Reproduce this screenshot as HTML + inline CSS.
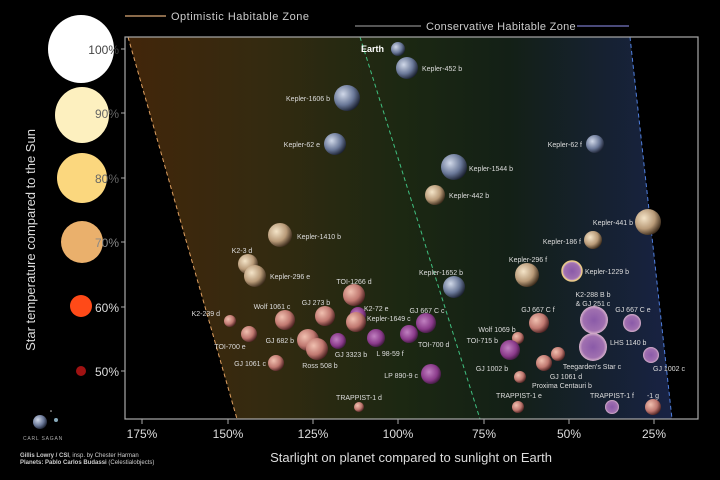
<!DOCTYPE html>
<html><head><meta charset="utf-8"><style>
html,body{margin:0;padding:0;background:#000;width:720px;height:480px;overflow:hidden}
svg{display:block;font-family:"Liberation Sans","DejaVu Sans",sans-serif}
.pl{font-size:7px;fill:#ddd}
.tk{font-size:12px;fill:#ddd}
</style></head><body>
<svg width="720" height="480" viewBox="0 0 720 480">
<defs>
<linearGradient id="bg" x1="0" x2="1" y1="0" y2="0">
<stop offset="0" stop-color="#42260a"/>
<stop offset="0.25" stop-color="#342a10"/>
<stop offset="0.5" stop-color="#1c2812"/>
<stop offset="0.7" stop-color="#132016"/>
<stop offset="1" stop-color="#182244"/>
</linearGradient>
<linearGradient id="lg1" x1="0" x2="1"><stop offset="0" stop-color="#3a4a3a"/><stop offset="1" stop-color="#3a3a6a"/></linearGradient>
<radialGradient id="pk" cx="0.35" cy="0.35" r="0.7"><stop offset="0" stop-color="#f0c0b0"/><stop offset="0.6" stop-color="#c07870"/><stop offset="1" stop-color="#4a2020"/></radialGradient>
<radialGradient id="pu" cx="0.4" cy="0.4" r="0.7"><stop offset="0" stop-color="#c080c0"/><stop offset="0.6" stop-color="#8a3a8a"/><stop offset="1" stop-color="#2a102a"/></radialGradient>
<radialGradient id="tn" cx="0.35" cy="0.35" r="0.7"><stop offset="0" stop-color="#f4e4c8"/><stop offset="0.6" stop-color="#b89a78"/><stop offset="1" stop-color="#3a2a1a"/></radialGradient>
<radialGradient id="bl" cx="0.35" cy="0.35" r="0.7"><stop offset="0" stop-color="#d0d8e8"/><stop offset="0.6" stop-color="#6a7898"/><stop offset="1" stop-color="#1a2030"/></radialGradient>
<radialGradient id="lv" cx="0.5" cy="0.5" r="0.55"><stop offset="0" stop-color="#8a5aa8"/><stop offset="0.7" stop-color="#a070b0"/><stop offset="1" stop-color="#f0d0d8"/></radialGradient>
</defs>
<rect width="720" height="480" fill="#000"/>
<polygon points="128,37 630,37 672,419 237,419" fill="url(#bg)"/>
<line x1="128" y1="37" x2="237" y2="419" stroke="#e0a060" stroke-width="1" stroke-dasharray="4,3"/>
<line x1="360" y1="37" x2="480" y2="419" stroke="#40c080" stroke-width="1" stroke-dasharray="4,3"/>
<line x1="630" y1="37" x2="672" y2="419" stroke="#5080e0" stroke-width="1" stroke-dasharray="4,3"/>
<rect x="125" y="37" width="573" height="382" fill="none" stroke="#aaa" stroke-width="1.2"/>
<line x1="125" y1="16" x2="166" y2="16" stroke="#8a6a4a" stroke-width="2"/>
<text x="171" y="20" font-size="11" fill="#ccc" letter-spacing="0.5">Optimistic Habitable Zone</text>
<line x1="324" y1="16" x2="629" y2="16" stroke="url(#lg1)" stroke-width="2"/>
<line x1="355" y1="26" x2="421" y2="26" stroke="#555" stroke-width="2"/>
<text x="426" y="30" font-size="11" fill="#ccc" letter-spacing="0.3">Conservative Habitable Zone</text>
<line x1="577" y1="26" x2="629" y2="26" stroke="#4a4a7a" stroke-width="2"/>
<ellipse cx="81" cy="49" rx="33" ry="34" fill="#fff"/>
<ellipse cx="82" cy="115" rx="27" ry="28" fill="#fdf0bf"/>
<ellipse cx="82" cy="178" rx="25" ry="25" fill="#fbd77e"/>
<ellipse cx="82" cy="242" rx="21" ry="21" fill="#eab06c"/>
<circle cx="81" cy="306" r="11" fill="#ff4a18"/>
<circle cx="81" cy="371" r="5" fill="#a01212"/>
<g class="tk" text-anchor="end" font-size="12">
<text x="119" y="54" fill="#444">100%</text><text x="119" y="118" fill="#666">90%</text><text x="119" y="183" fill="#666">80%</text><text x="119" y="247" fill="#888">70%</text><text x="119" y="312">60%</text><text x="119" y="376">50%</text>
</g>
<g stroke="#aaa"><line x1="121" y1="49" x2="125" y2="49"/><line x1="121" y1="113" x2="125" y2="113"/><line x1="121" y1="178" x2="125" y2="178"/><line x1="121" y1="242" x2="125" y2="242"/><line x1="121" y1="307" x2="125" y2="307"/><line x1="121" y1="371" x2="125" y2="371"/>
<line x1="142" y1="419" x2="142" y2="424"/><line x1="228" y1="419" x2="228" y2="424"/><line x1="313" y1="419" x2="313" y2="424"/><line x1="398" y1="419" x2="398" y2="424"/><line x1="484" y1="419" x2="484" y2="424"/><line x1="569" y1="419" x2="569" y2="424"/><line x1="654" y1="419" x2="654" y2="424"/></g>
<g class="tk" text-anchor="middle">
<text x="142" y="438">175%</text><text x="228" y="438">150%</text><text x="313" y="438">125%</text><text x="398" y="438">100%</text><text x="484" y="438">75%</text><text x="569" y="438">50%</text><text x="654" y="438">25%</text>
</g>
<text x="411" y="462" text-anchor="middle" font-size="13" fill="#ddd">Starlight on planet compared to sunlight on Earth</text>
<text transform="translate(35,240) rotate(-90)" text-anchor="middle" font-size="13" fill="#ddd">Star temperature compared to the Sun</text>
<circle cx="40" cy="422" r="7" fill="url(#bl)"/><circle cx="56" cy="420" r="2" fill="#8ab"/><circle cx="51" cy="411" r="0.8" fill="#ccc"/>
<text x="43" y="440" text-anchor="middle" font-size="5" fill="#aaa" letter-spacing="0.8">CARL SAGAN</text>
<text x="20" y="457" font-size="6" fill="#ccc"><tspan font-weight="bold">Gillis Lowry / CSI</tspan>, insp. by Chester Harman</text>
<text x="20" y="464" font-size="6" fill="#ccc"><tspan font-weight="bold">Planets: Pablo Carlos Budassi</tspan> (Celestialobjects)</text>
<g>
<circle cx="398" cy="49" r="7" fill="url(#bl)"/>
<circle cx="407" cy="68" r="11" fill="url(#bl)"/>
<circle cx="347" cy="98" r="13" fill="url(#bl)"/>
<circle cx="335" cy="144" r="11" fill="url(#bl)"/>
<circle cx="595" cy="144" r="9" fill="url(#bl)"/>
<circle cx="454" cy="167" r="13" fill="url(#bl)"/>
<circle cx="435" cy="195" r="10" fill="url(#tn)"/>
<circle cx="648" cy="222" r="13" fill="url(#tn)"/>
<circle cx="280" cy="235" r="12" fill="url(#tn)"/>
<circle cx="593" cy="240" r="9" fill="url(#tn)"/>
<circle cx="248" cy="264" r="10" fill="url(#tn)"/>
<circle cx="255" cy="276" r="11" fill="url(#tn)"/>
<circle cx="527" cy="275" r="12" fill="url(#tn)"/>
<circle cx="572" cy="271" r="10" fill="url(#lv)" stroke="#e8c888" stroke-width="1.5"/>
<circle cx="454" cy="287" r="11" fill="url(#bl)"/>
<circle cx="354" cy="295" r="11" fill="url(#pk)"/>
<circle cx="594" cy="320" r="14" fill="url(#lv)"/>
<circle cx="632" cy="323" r="9" fill="url(#lv)"/>
<circle cx="539" cy="323" r="10" fill="url(#pk)"/>
<circle cx="230" cy="321" r="6" fill="url(#pk)"/>
<circle cx="285" cy="320" r="10" fill="url(#pk)"/>
<circle cx="325" cy="316" r="10" fill="url(#pk)"/>
<circle cx="358" cy="315" r="8" fill="url(#pu)"/>
<circle cx="356" cy="322" r="10" fill="url(#pk)"/>
<circle cx="426" cy="323" r="10" fill="url(#pu)"/>
<circle cx="249" cy="334" r="8" fill="url(#pk)"/>
<circle cx="308" cy="340" r="11" fill="url(#pk)"/>
<circle cx="317" cy="349" r="11" fill="url(#pk)"/>
<circle cx="338" cy="341" r="8" fill="url(#pu)"/>
<circle cx="376" cy="338" r="9" fill="url(#pu)"/>
<circle cx="409" cy="334" r="9" fill="url(#pu)"/>
<circle cx="518" cy="338" r="6" fill="url(#pk)"/>
<circle cx="510" cy="350" r="10" fill="url(#pu)"/>
<circle cx="544" cy="363" r="8" fill="url(#pk)"/>
<circle cx="558" cy="354" r="7" fill="url(#pk)"/>
<circle cx="520" cy="377" r="6" fill="url(#pk)"/>
<circle cx="593" cy="347" r="14" fill="url(#lv)"/>
<circle cx="651" cy="355" r="8" fill="url(#lv)"/>
<circle cx="431" cy="374" r="10" fill="url(#pu)"/>
<circle cx="276" cy="363" r="8" fill="url(#pk)"/>
<circle cx="359" cy="407" r="5" fill="url(#pk)"/>
<circle cx="518" cy="407" r="6" fill="url(#pk)"/>
<circle cx="612" cy="407" r="7" fill="url(#lv)"/>
<circle cx="653" cy="407" r="8" fill="url(#pk)"/>
</g>
<g class="pl">
<text x="361" y="52" font-size="9" font-weight="bold" fill="#fff">Earth</text>
<text x="422" y="71">Kepler-452 b</text>
<text x="330" y="101" text-anchor="end">Kepler-1606 b</text>
<text x="320" y="147" text-anchor="end">Kepler-62 e</text>
<text x="582" y="147" text-anchor="end">Kepler-62 f</text>
<text x="469" y="171">Kepler-1544 b</text>
<text x="449" y="198">Kepler-442 b</text>
<text x="633" y="225" text-anchor="end">Kepler-441 b</text>
<text x="297" y="239">Kepler-1410 b</text>
<text x="581" y="244" text-anchor="end">Kepler-186 f</text>
<text x="242" y="253" text-anchor="middle">K2-3 d</text>
<text x="270" y="279">Kepler-296 e</text>
<text x="528" y="262" text-anchor="middle">Kepler-296 f</text>
<text x="585" y="274">Kepler-1229 b</text>
<text x="441" y="275" text-anchor="middle">Kepler-1652 b</text>
<text x="354" y="284" text-anchor="middle">TOI-1266 d</text>
<text x="593" y="297" text-anchor="middle">K2-288 B b</text>
<text x="593" y="306" text-anchor="middle">&amp; GJ 251 c</text>
<text x="633" y="312" text-anchor="middle">GJ 667 C e</text>
<text x="538" y="312" text-anchor="middle">GJ 667 C f</text>
<text x="220" y="316" text-anchor="end">K2-239 d</text>
<text x="272" y="309" text-anchor="middle">Wolf 1061 c</text>
<text x="316" y="305" text-anchor="middle">GJ 273 b</text>
<text x="364" y="311">K2-72 e</text>
<text x="367" y="321">Kepler-1649 c</text>
<text x="427" y="313" text-anchor="middle">GJ 667 C c</text>
<text x="230" y="349" text-anchor="middle">TOI-700 e</text>
<text x="294" y="343" text-anchor="end">GJ 682 b</text>
<text x="320" y="368" text-anchor="middle">Ross 508 b</text>
<text x="351" y="357" text-anchor="middle">GJ 3323 b</text>
<text x="390" y="356" text-anchor="middle">L 98-59 f</text>
<text x="418" y="347">TOI-700 d</text>
<text x="497" y="332" text-anchor="middle">Wolf 1069 b</text>
<text x="498" y="343" text-anchor="end">TOI-715 b</text>
<text x="492" y="371" text-anchor="middle">GJ 1002 b</text>
<text x="566" y="379" text-anchor="middle">GJ 1061 d</text>
<text x="592" y="369" text-anchor="middle">Teegarden's Star c</text>
<text x="562" y="388" text-anchor="middle">Proxima Centauri b</text>
<text x="610" y="345">LHS 1140 b</text>
<text x="669" y="371" text-anchor="middle">GJ 1002 c</text>
<text x="418" y="378" text-anchor="end">LP 890-9 c</text>
<text x="266" y="366" text-anchor="end">GJ 1061 c</text>
<text x="359" y="400" text-anchor="middle">TRAPPIST-1 d</text>
<text x="519" y="398" text-anchor="middle">TRAPPIST-1 e</text>
<text x="612" y="398" text-anchor="middle">TRAPPIST-1 f</text>
<text x="653" y="398" text-anchor="middle">-1 g</text>
</g>
</svg>
</body></html>
